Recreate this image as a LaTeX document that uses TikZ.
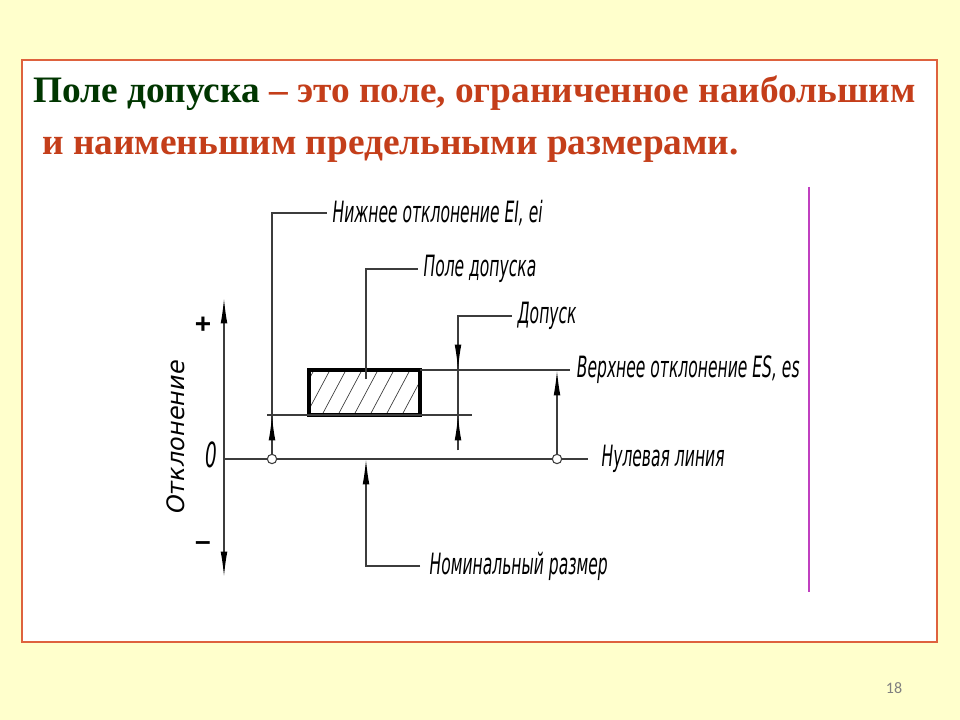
\documentclass[tikz,border=0pt]{standalone}
\usepackage{fontspec}
\setmainfont{Liberation Serif}
\newfontfamily\gost[FakeStretch=0.53]{DejaVu Sans}
\newfontfamily\gostwide{DejaVu Sans}
\newfontfamily\signfont{Liberation Sans}
\newfontfamily\pgnum{Carlito}
\usetikzlibrary{arrows.meta,positioning}

\definecolor{slidebg}{RGB}{255,255,204}
\definecolor{frameline}{RGB}{222,98,62}
\definecolor{titlegreen}{RGB}{0,54,0}
\definecolor{titlered}{RGB}{196,62,26}
\definecolor{marginline}{RGB}{192,64,192}
\definecolor{drawline}{RGB}{60,60,60}

\tikzset{
  lbl/.style={font=\gost\itshape\fontsize{22}{22}\selectfont, inner sep=1pt},
  thinline/.style={draw=drawline, line width=1pt},
  tip/.style={Latex[length=19pt,width=5pt,color=black]},
  dim/.style={thinline, -{Latex[length=19pt,width=5pt,color=black]}},
  ring/.style={circle, draw=drawline, line width=0.8pt, fill=white, minimum size=7pt, inner sep=0pt},
  titletext/.style={anchor=base west, inner sep=0pt, font=\bfseries\fontsize{28}{28}\selectfont},
}

\begin{document}
\begin{tikzpicture}[x=0.75pt,y=-0.75pt]
	\useasboundingbox (0,0) rectangle (960,720);
	\fill[slidebg] (0,0) rectangle (960,720);
	\draw[frameline, fill=white, line width=1.4pt] (22,60) rectangle (937,642);
	
	% title
	\node[titletext] (title1) at (33,103) {\color{titlegreen}Поле допуска \color{titlered}– это поле, ограниченное наибольшим};
	\node[titletext, text=titlered] (title2) at (42,155) {и наименьшим предельными размерами.};
	\node[font=\pgnum\fontsize{12}{12}\selectfont, text=gray] (pgno) at (894,688) {18};
	
	\draw[marginline, line width=1pt] (809,187) -- (809,592);
	
	% axis of deviations
	\coordinate (axtop) at (224,298);
	\coordinate (axbot) at (224,577);
	\coordinate (zero) at (224,459);
	\draw[thinline, {Latex[length=19pt,width=5pt,color=black]}-{Latex[length=19pt,width=5pt,color=black]}] (axbot) -- (axtop);
	\node[font=\signfont\bfseries\fontsize{21}{21}\selectfont] (plus) at (203,325) {+};
	\node[font=\signfont\bfseries\fontsize{21}{21}\selectfont] (minus) at (203,546) {–};
	\node[font=\gostwide\itshape\fontsize{18}{18}\selectfont, rotate=90] (axlbl) at (176,437) {Отклонение};
	\node[lbl, font=\gost\itshape\fontsize{26}{26}\selectfont] (zlbl) at (211,455) {0};
	
	% zero line
	\coordinate (zlend) at (588,459);
	\draw[thinline] (zero) -- (zlend);
	\node[lbl, right=9pt of zlend] (nl) {Нулевая линия};
	
	% tolerance zone
	\coordinate (tzbl) at (309,415);
	\coordinate (tztr) at (420,370);
	\begin{scope}
		\clip (tzbl) rectangle (tztr);
		\foreach \i in {0,...,8}
			\draw[thinline, line width=0.5pt] (290+\i*16,415) -- ++(24,-45);
	\end{scope}
	\draw[line width=2.4pt] (tzbl) rectangle (tztr);
	
	% upper and lower limits
	\coordinate (esend) at (570,370);
	\draw[thinline] (tztr) -- (esend);
	\node[lbl, right=4pt of esend] (es) {Верхнее отклонение ES, es};
	\coordinate (eil) at (267,415);
	\coordinate (eir) at (472,415);
	\draw[thinline] (eil) -- (eir);
	
	\node[ring] (c1) at (272,459) {};
	\node[ring] (c2) at (557,459) {};
	
	% lower deviation
	\coordinate (eiknee) at (272,213);
	\coordinate (eiend) at (327,213);
	\draw[thinline] (c1) -- (eiknee) -- (eiend);
	\draw[dim] (c1) -- (c1 |- eil);
	\node[lbl, right=3pt of eiend] (ei) {Нижнее отклонение EI, ei};
	
	% upper deviation
	\draw[dim] (c2) -- (c2 |- tztr);
	
	% tolerance zone leader
	\coordinate (tzin) at (366,379);
	\coordinate (tzknee) at (366,269);
	\coordinate (tzend) at (418,269);
	\draw[thinline] (tzin) -- (tzknee) -- (tzend);
	\node[lbl, right=3pt of tzend] (tz) {Поле допуска};
	
	% tolerance
	\coordinate (tolbot) at (458,450);
	\coordinate (toltop) at (458,316);
	\coordinate (tolend) at (512,316);
	\draw[thinline] (tolbot) -- (toltop) -- (tolend);
	\draw[dim] (toltop) -- (toltop |- tztr);
	\draw[dim] (tolbot) -- (tolbot |- eil);
	\node[lbl, right=3pt of tolend] (tol) {Допуск};
	
	% nominal size
	\coordinate (nomknee) at (366,566);
	\coordinate (nomend) at (420,566);
	\draw[dim] (nomend) -- (nomknee) -- (nomknee |- zero);
	\node[lbl, right=6pt of nomend] (nom) {Номинальный размер};
\end{tikzpicture}
\end{document}
